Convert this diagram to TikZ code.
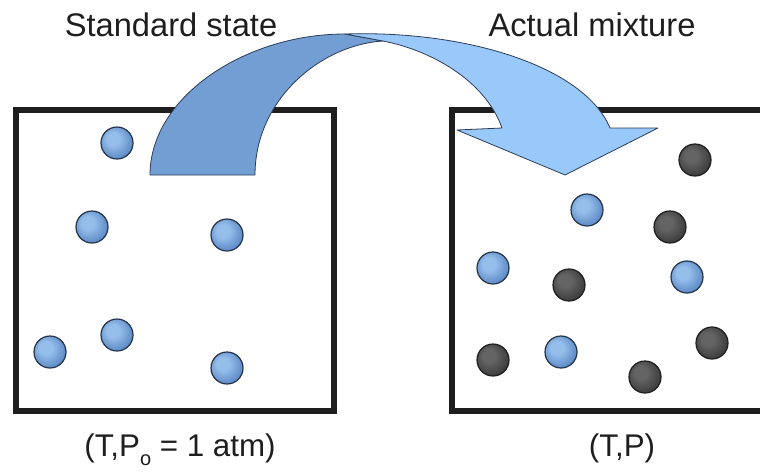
\documentclass[tikz,border=0pt]{standalone}
\usepackage{fontspec}
\setmainfont{Liberation Sans}
\usepackage{xcolor}
\usepackage{tikz}
\usetikzlibrary{positioning}
\definecolor{grisoscuro}{RGB}{30, 30, 30}
\definecolor{cintaatras}{RGB}{114, 158, 212}
\definecolor{cintafrente}{RGB}{153, 201, 250}
\definecolor{bordecinta}{RGB}{45, 60, 85}
\definecolor{azulclaro}{RGB}{150, 190, 235}
\definecolor{azulbola}{RGB}{74, 122, 186}
\definecolor{bordeazul}{RGB}{38, 52, 72}
\definecolor{grisclaro}{RGB}{100, 100, 100}
\definecolor{grisbola}{RGB}{48, 48, 48}
\pgfdeclareradialshading{bolaazul}{\pgfpoint{-8bp}{8bp}}{color(0bp)=(azulclaro); color(10bp)=(azulclaro); color(34bp)=(azulbola); color(50bp)=(azulbola)}
\pgfdeclareradialshading{bolagris}{\pgfpoint{-8bp}{8bp}}{color(0bp)=(grisclaro); color(10bp)=(grisclaro); color(34bp)=(grisbola); color(50bp)=(grisbola)}

\begin{document}
\begin{tikzpicture}[
    x=0.75pt, y=-0.75pt,
    caja/.style={rectangle, draw=grisoscuro, line width=4.2pt, inner sep=0pt},
    bola/.style={circle, minimum size=24pt, inner sep=0pt, line width=0.9pt},
    azul/.style={bola, draw=bordeazul, shading=bolaazul},
    gris/.style={bola, draw=grisoscuro, shading=bolagris},
    rotulo/.style={font=\fontsize{24.5}{28}\selectfont, text=grisoscuro, anchor=base, inner sep=0pt},
    estado/.style={font=\fontsize{23.5}{28}\selectfont, text=grisoscuro, anchor=base, inner sep=0pt},
    cinta/.style={draw=bordecinta, line width=0.6pt, line join=round}
]
\useasboundingbox (0,0) rectangle (760,472);
\node (izq) [caja, minimum width=238.5pt, minimum height=225.75pt] at (175,260.5) {};
\node (der) [caja, minimum width=270pt, minimum height=225.75pt] at (632,260.5) {};
\node (sa1) [azul] at (117,143) {};
\node (sa2) [azul] at (92,227) {};
\node (sa3) [azul] at (227,235) {};
\node (sa4) [azul] at (50,352) {};
\node (sa5) [azul] at (117,335) {};
\node (sa6) [azul] at (227,368) {};
\node (sb1) [azul] at (587,210) {};
\node (sb2) [azul] at (493,268) {};
\node (sb3) [azul] at (687,277) {};
\node (sb4) [azul] at (561,352) {};
\node (sc1) [gris] at (695,160) {};
\node (sc2) [gris] at (670,227) {};
\node (sc3) [gris] at (569,285) {};
\node (sc4) [gris] at (493,360) {};
\node (sc5) [gris] at (645,377) {};
\node (sc6) [gris] at (712,343) {};
\filldraw [cinta, fill=cintaatras] (150,175) .. controls (150,97) and (245,34) .. (345,34)
    -- (383,41) .. controls (320,45) and (255,100) .. (255,175) -- cycle;
\filldraw [cinta, fill=cintafrente] (345,34) .. controls (470,30) and (585,68) .. (610,128)
    -- (658,128) -- (565,175) -- (457,130) -- (502,128)
    .. controls (485,80) and (430,50) .. (383,41) -- cycle;
\node (ref) [rotulo] at (171,36) {Standard state};
\node (mez) [rotulo] at (592,36) {Actual mixture};
\node (cond1) [estado] at (180,456) {(T,P\raisebox{-0.3em}{\fontsize{15}{15}\selectfont o} = 1 atm)};
\node (cond2) [estado] at (622,456) {(T,P)};
\end{tikzpicture}
\end{document}
